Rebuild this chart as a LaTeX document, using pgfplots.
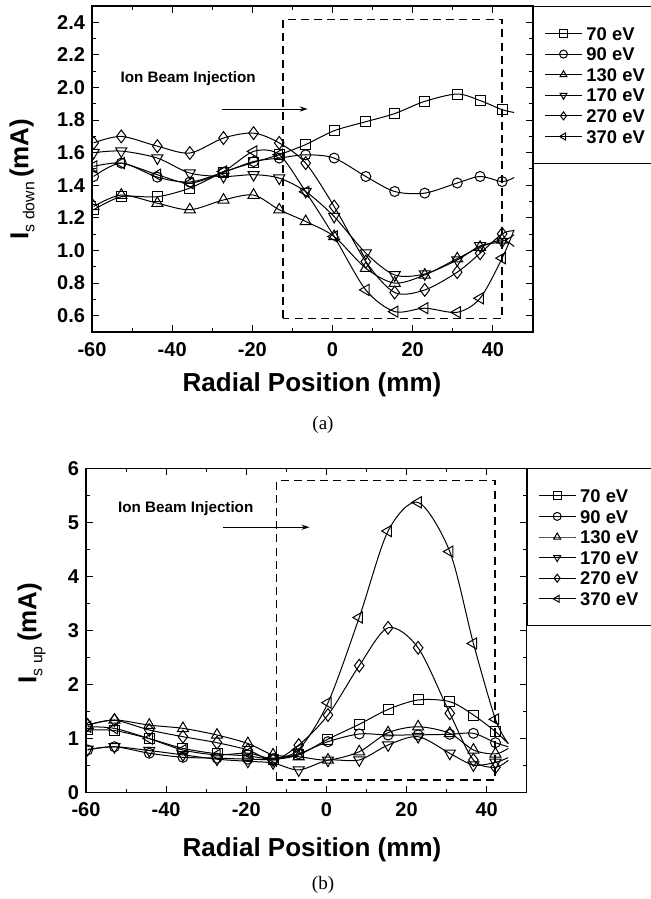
\documentclass[border=0pt]{standalone}
\usepackage{pgfplots}
\pgfplotsset{compat=1.18}
\usepackage{pgfplotstable}
\usepackage{fontspec}
\setmainfont{Liberation Sans}
\newfontfamily\seriffont{Liberation Serif}
\usetikzlibrary{arrows.meta}

\pgfplotstableread{
x s70 s90 s130 s170 s270 s370
-59.6 1.25 1.454 1.27 1.60 1.66 1.516
-52.7 1.33 1.536 1.34 1.61 1.70 1.536
-43.7 1.33 1.45 1.29 1.567 1.64 1.465
-35.6 1.383 1.42 1.25 1.475 1.598 1.413
-27.2 1.48 1.48 1.31 1.454 1.69 1.485
-19.7 1.54 1.546 1.34 1.465 1.72 1.608
-13.3 1.588 1.567 1.25 1.444 1.66 1.588
-6.7 1.65 1.587 1.178 1.362 1.536 1.36
0.4 1.735 1.567 1.086 1.208 1.27 1.086
8.3 1.79 1.454 0.891 0.984 0.932 0.758
15.5 1.84 1.362 0.80 0.85 0.742 0.625
23.0 1.915 1.352 0.85 0.856 0.758 0.646
31.1 1.96 1.414 0.95 0.942 0.867 0.621
36.8 1.92 1.454 1.02 1.028 0.983 0.707
42.3 1.864 1.423 1.065 1.055 1.102 0.953
45.3 1.847 1.448 1.024 1.096 1.122 1.127
}\topdata

\pgfplotstableread{
x s70 s90 s130 s170 s270 s370
-59.6 1.16 0.79 1.25 0.80 1.25 1.22
-52.9 1.15 0.85 1.345 0.85 1.34 1.19
-44.2 1.0 0.73 1.25 0.78 1.16 1.0
-35.8 0.82 0.655 1.19 0.70 1.036 0.79
-27.3 0.72 0.64 1.067 0.62 0.925 0.70
-19.6 0.68 0.62 0.91 0.58 0.79 0.73
-13.3 0.62 0.62 0.70 0.55 0.605 0.636
-6.9 0.70 0.72 0.666 0.42 0.88 0.80
0.4 0.99 0.944 0.605 0.60 1.437 1.665
8.2 1.265 1.086 0.758 0.605 2.35 3.24
15.4 1.54 1.067 1.11 0.882 3.05 4.84
22.9 1.715 1.07 1.22 1.036 2.68 5.37
30.8 1.684 1.08 1.098 0.728 1.468 4.46
36.7 1.437 1.098 0.79 0.512 0.605 2.76
42.2 1.13 0.925 0.716 0.56 0.47 1.357
45.4 0.91 0.85 0.82 0.65 0.60 0.91
}\botdata

\tikzset{boxst/.style={black, line width=0.7pt, dash pattern=on 4pt off 2.6pt}}

\pgfplotsset{
  myax/.style={
    scale only axis,
    xmin=-60, xmax=50,
    xtick={-60,-40,...,40},
    minor x tick num=1,
    tick align=inside,
    major tick length=3.5pt,
    minor tick length=1.8pt,
    axis line style={line width=0.65pt},
    every tick/.style={black, line width=0.5pt},
    ticklabel style={font=\bfseries\fontsize{10}{12}\selectfont},
    /pgf/number format/assume math mode=true,
    clip marker paths=true,
    legend style={at={(1,1)}, anchor=north west, draw=black, line width=0.5pt,
      fill=white, font=\bfseries\fontsize{9.2}{10}\selectfont,
      inner xsep=5.5pt, inner ysep=9.4pt, row sep=2.1pt, column sep=1.2pt,
      nodes={inner sep=0.8pt, text height=6.6pt, text depth=0pt}},
    legend cell align=left,
    legend image code/.code={\draw[mark indices={2}] plot coordinates {(0cm,0cm) (0.325cm,0cm) (0.65cm,0cm)};},
    legend image post style={mark size=2pt},
    every axis plot/.append style={black, line width=0.5pt, smooth, tension=0.5,
      mark indices={1,2,3,4,5,6,7,8,9,10,11,12,13,14,15}},
  },
  pA/.style={mark=square, mark size=2.5pt, mark options={fill=white, line width=0.5pt}},
  pB/.style={mark=o, mark size=2.5pt, mark options={fill=white, line width=0.5pt}},
  pC/.style={mark=triangle, mark size=3.2pt, mark options={fill=white, line width=0.5pt}},
  pD/.style={mark=triangle, mark size=3.2pt, mark options={fill=white, line width=0.5pt, rotate=180}},
  pE/.style={mark=diamond, mark size=3.2pt, mark options={fill=white, line width=0.5pt}},
  pF/.style={mark=triangle, mark size=3.2pt, mark options={fill=white, line width=0.5pt, rotate=90}},
}

\begin{document}
\begin{tikzpicture}
\path[use as bounding box] (0pt,0pt) rectangle (325.5pt,-449.5pt);

% ---------- (a) ----------
\begin{axis}[myax,
  at={(46pt,-3pt)}, anchor=north west,
  width=220.5pt, height=163pt,
  ymin=0.5, ymax=2.5,
  ytick={0.6,0.8,...,2.41},
  minor y tick num=1,
  xticklabel style={yshift=-1.5pt},
  yticklabel style={/pgf/number format/.cd, fixed, fixed zerofill, precision=1},
]
\addplot[pA] table[x=x,y=s70] {\topdata}; \addlegendentry{70 eV}
\addplot[pB] table[x=x,y=s90] {\topdata}; \addlegendentry{90 eV}
\addplot[pC] table[x=x,y=s130] {\topdata}; \addlegendentry{130 eV}
\addplot[pD] table[x=x,y=s170] {\topdata}; \addlegendentry{170 eV}
\addplot[pE] table[x=x,y=s270] {\topdata}; \addlegendentry{270 eV}
\addplot[pF] table[x=x,y=s370] {\topdata}; \addlegendentry{370 eV}
\draw[boxst] (axis cs:-12.4,0.584) rectangle (axis cs:42.3,2.417);
\draw[black, line width=0.5pt, -{Stealth[length=4pt,width=2.6pt]}] (axis cs:-27.6,1.868) -- (axis cs:-6.2,1.868);
\node[font=\bfseries\fontsize{7.6}{9}\selectfont] at (axis cs:-36,2.054) {Ion Beam Injection};
\end{axis}

% ---------- (b) ----------
\begin{axis}[myax,
  at={(43pt,-234.15pt)}, anchor=north west,
  width=220.35pt, height=162.2pt,
  ymin=0, ymax=6,
  ytick={0,1,...,6},
  minor y tick num=1,
  xticklabel style={yshift=-1.5pt},
]
\addplot[pA] table[x=x,y=s70] {\botdata}; \addlegendentry{70 eV}
\addplot[pB] table[x=x,y=s90] {\botdata}; \addlegendentry{90 eV}
\addplot[pC] table[x=x,y=s130] {\botdata}; \addlegendentry{130 eV}
\addplot[pD] table[x=x,y=s170] {\botdata}; \addlegendentry{170 eV}
\addplot[pE] table[x=x,y=s270] {\botdata}; \addlegendentry{270 eV}
\addplot[pF] table[x=x,y=s370] {\botdata}; \addlegendentry{370 eV}
\draw[boxst] (axis cs:-12.5,0.234) rectangle (axis cs:42.1,5.77);
\draw[black, line width=0.5pt, -{Stealth[length=4pt,width=2.6pt]}] (axis cs:-25.8,4.91) -- (axis cs:-4.2,4.91);
\node[font=\bfseries\fontsize{7.6}{9}\selectfont] at (axis cs:-35.1,5.25) {Ion Beam Injection};
\end{axis}

% labels
\node[rotate=90, anchor=base, inner sep=0pt] at (14.2pt,-89.5pt)
  {\fontsize{13}{15}\selectfont\bfseries I\raisebox{-3pt}{\mdseries\fontsize{7.9}{9}\selectfont s down}\,(mA)};
\node[rotate=90, anchor=base, inner sep=0pt] at (18.2pt,-316.5pt)
  {\fontsize{13}{15}\selectfont\bfseries I\raisebox{-3pt}{\mdseries\fontsize{7.9}{9}\selectfont s up}\,(mA)};
\node[anchor=base, inner sep=0pt, font=\bfseries\fontsize{13}{15}\selectfont] at (156pt,-195.5pt) {Radial Position (mm)};
\node[anchor=base, inner sep=0pt, font=\bfseries\fontsize{13}{15}\selectfont] at (156pt,-428pt) {Radial Position (mm)};
\node[anchor=base, inner sep=0pt, font=\seriffont\fontsize{9.5}{11}\selectfont] at (161.5pt,-214.5pt) {(a)};
\node[anchor=base, inner sep=0pt, font=\seriffont\fontsize{9.5}{11}\selectfont] at (161.5pt,-444.5pt) {(b)};
\end{tikzpicture}
\end{document}
